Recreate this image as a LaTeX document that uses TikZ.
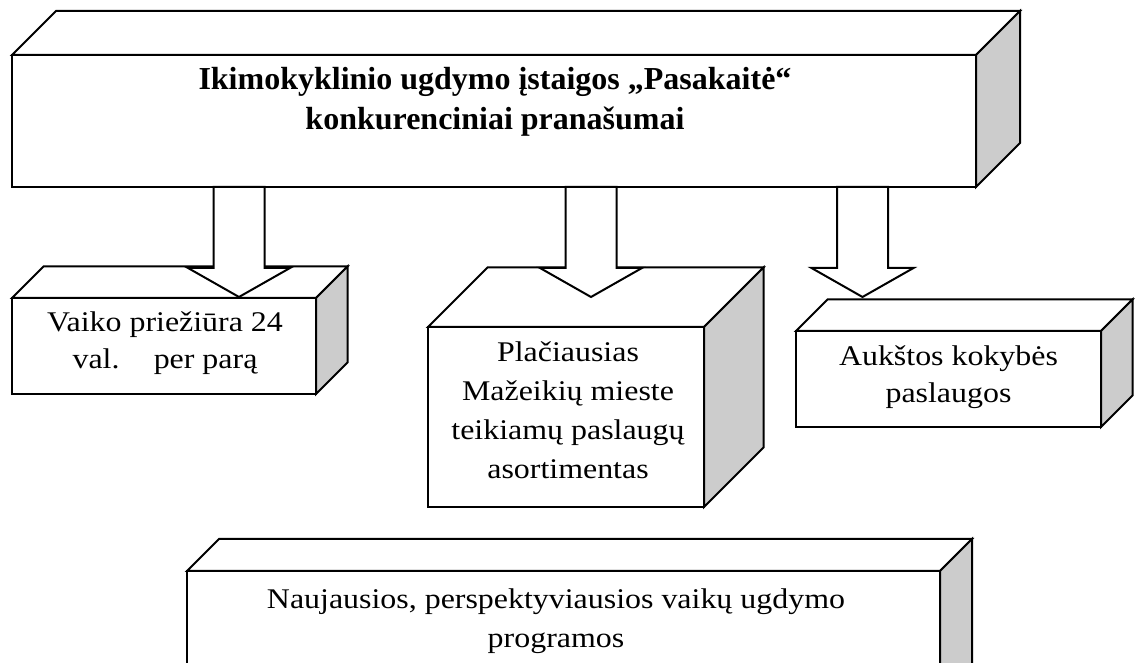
\documentclass[tikz,border=0pt]{standalone}
\usepackage{fontspec}
\setmainfont{Liberation Serif}
\newfontfamily\boxfont{Liberation Serif}[FakeStretch = 1.12]
\usepackage{tikz}
\usetikzlibrary{calc}
\definecolor{sidegray}{RGB}{204, 204, 204}

\newcommand{\cubefaces}[2]{%
	\draw[fill = white] (#1.north west) -- ++(#2,#2) -- ($(#1.north east)+(#2,#2)$) -- (#1.north east) -- cycle;
	\draw[fill = sidegray] (#1.north east) -- ++(#2,#2) -- ($(#1.south east)+(#2,#2)$) -- (#1.south east) -- cycle;
}
\newcommand{\fatarrow}[1]{%
	\draw[fill = white] (top.south -| #1) ++(-25.5,0) -- ++(0,-81) -- ++(-25.5,0) -- (#1) -- ++(51,29) -- ++(-25.5,0) -- ++(0,81) -- cycle;
}

\begin{document}
\begin{tikzpicture}[x = 1pt, y = 1pt, line width = 2pt,
	frontbox/.style = {draw, fill = white, outer sep = 0pt, inner sep = 0pt},
	boxtext/.style = {anchor = base, align = center, inner sep = 0pt, font = \boxfont\fontsize{28.5}{39}\selectfont}]
			\clip (0,0) rectangle (1135,663);
			\node (top) at (494,542) [frontbox, minimum width = 964pt, minimum height = 132pt] {};
			\cubefaces{top}{44}
			\node (toptitle) at (495,533) [boxtext, font = \fontsize{32}{40}\selectfont\bfseries] {Ikimokyklinio ugdymo įstaigos „Pasakaitė“\\konkurenciniai pranašumai};
			\node (vaiko) at (164,317) [frontbox, minimum width = 304pt, minimum height = 96pt] {};
			\cubefaces{vaiko}{31.5}
			\node (vaikotext) at (165,294) [boxtext, font = \boxfont\fontsize{28.5}{37}\selectfont] {Vaiko priežiūra 24\\val.\hspace{1.2em}per parą};
			\node (placiausias) at (566,246) [frontbox, minimum width = 276pt, minimum height = 180pt] {};
			\cubefaces{placiausias}{59.5}
			\node (placiausiastext) at (568,184) [boxtext] {Plačiausias\\Mažeikių mieste\\teikiamų paslaugų\\asortimentas};
			\node (aukstos) at (948.5,284) [frontbox, minimum width = 305pt, minimum height = 96pt] {};
			\cubefaces{aukstos}{31.5}
			\node (aukstostext) at (948.5,260) [boxtext, font = \boxfont\fontsize{28.5}{37}\selectfont] {Aukštos kokybės\\paslaugos};
			\node (naujausios) at (563.5,17.5) [frontbox, minimum width = 753pt, minimum height = 149pt] {};
			\cubefaces{naujausios}{32}
			\node (naujausiostext) at (556,15) [boxtext] {Naujausios, perspektyviausios vaikų ugdymo\\programos};
			\coordinate (tip1) at (239,366);
			\coordinate (tip2) at (591,366);
			\coordinate (tip3) at (862.5,366);
			\fatarrow{tip1}
			\fatarrow{tip2}
			\fatarrow{tip3}
\end{tikzpicture}
\end{document}
